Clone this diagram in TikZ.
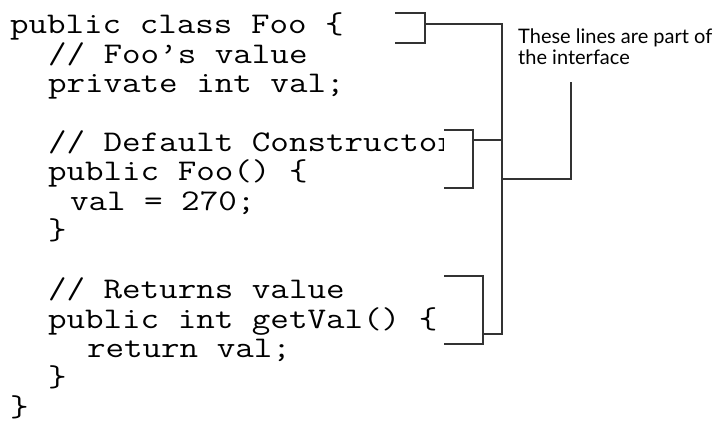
\documentclass[tikz,border=0pt]{standalone}
\usepackage{fontspec}
\usepackage{graphicx}
\newfontfamily\labelfont{Lato}
\tikzset{
  code/.style={anchor=base west, inner sep=0pt, outer sep=0pt, font=\fontsize{30}{30}\selectfont\ttfamily},
  note/.style={anchor=north west, inner sep=0pt, align=left, font=\fontsize{20}{21}\selectfont\labelfont},
  bracket/.style={draw=black!80, line width=1.2pt},
}
\newcommand{\cl}[1]{\scalebox{1.2}[1]{#1}}
\begin{document}
\begin{tikzpicture}[x=1pt,y=-1pt]
\useasboundingbox (0,0) rectangle (725,427);
\begin{scope}
\clip (0,0) rectangle (443,427);
\node[code] (l1) at (10,34) {\cl{public class Foo \{}};
\node[code] (l2) at (48,63.4) {\cl{// Foo’s value}};
\node[code] (l3) at (48,92.8) {\cl{private int val;}};
\node[code] (l5) at (48,151.6) {\cl{// Default Constructor}};
\node[code] (l6) at (48,181) {\cl{public Foo() \{}};
\node[code] (l7) at (70,210.4) {\cl{val = 270;}};
\node[code] (l8) at (48,239.8) {\cl{\}}};
\node[code] (l10) at (48,298.6) {\cl{// Returns value}};
\node[code] (l11) at (48,328) {\cl{public int getVal() \{}};
\node[code] (l12) at (87,357.4) {\cl{return val;}};
\node[code] (l13) at (48,386.8) {\cl{\}}};
\node[code] (l14) at (10,416.2) {\cl{\}}};
\end{scope}
\node[note] (lbl) at (518,29) {These lines are part of\\the interface};
% bracket 1
\coordinate (b1a) at (395,13);
\coordinate (b1b) at (425,13);
\coordinate (b1c) at (425,43);
\coordinate (b1d) at (395,43);
\coordinate (b1j) at (425,24);
% bracket 2
\coordinate (b2a) at (444,130);
\coordinate (b2b) at (473,130);
\coordinate (b2c) at (473,188);
\coordinate (b2d) at (444,188);
\coordinate (b2j) at (473,140);
% bracket 3
\coordinate (b3a) at (444,276);
\coordinate (b3b) at (483,276);
\coordinate (b3c) at (483,344);
\coordinate (b3d) at (444,344);
\coordinate (b3j) at (483,334);
% spine
\coordinate (s1) at (502,24);
\coordinate (s2) at (502,140);
\coordinate (s3) at (502,334);
\coordinate (sp) at (502,179);
\coordinate (pc) at (571,179);
\coordinate (pt) at (571,82);
\draw[bracket] (b1a) -- (b1b) -- (b1c) -- (b1d);
\draw[bracket] (b2a) -- (b2b) -- (b2c) -- (b2d);
\draw[bracket] (b3a) -- (b3b) -- (b3c) -- (b3d);
\draw[bracket] (b1j) -- (s1) -- (s3) -- (b3j);
\draw[bracket] (b2j) -- (s2);
\draw[bracket] (sp) -- (pc) -- (pt);
\end{tikzpicture}
\end{document}
